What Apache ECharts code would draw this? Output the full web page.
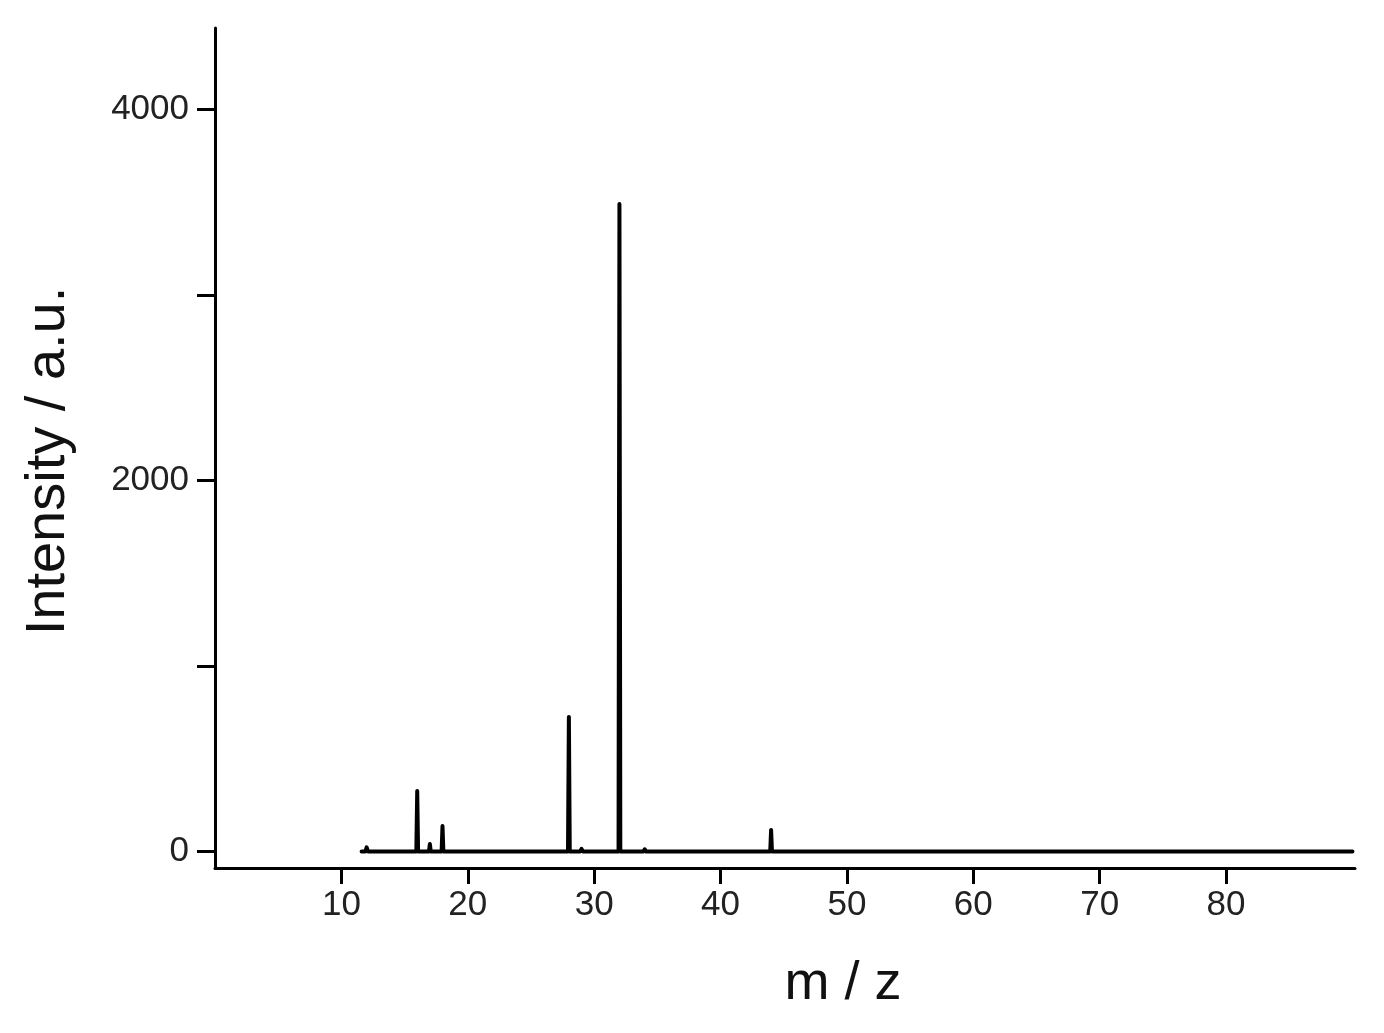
<!DOCTYPE html>
<html>
<head>
<meta charset="utf-8">
<script src="https://cdn.jsdelivr.net/npm/echarts@6/dist/echarts.min.js"></script>
<style>
  html, body { margin: 0; padding: 0; background: #fff; }
  #chart { width: 1384px; height: 1033px; }
</style>
</head>
<body>
<div id="chart"></div>
<script>
// spectrum points (m/z, intensity)
const mz = [11.6, 11.9, 12.0, 12.1, 13.9, 14.0, 14.1, 15.93, 16.0, 16.07, 16.93, 17.0, 17.07,
  17.93, 18.0, 18.07, 27.93, 28.0, 28.07, 28.9, 29.0, 29.1, 29.9, 30.0, 30.1,
  31.93, 32.0, 32.07, 33.9, 34.0, 34.1, 43.93, 44.0, 44.07, 90.0];
const intensity = [0, 0, 22, 0, 0, 10, 0, 0, 326, 0, 0, 40, 0,
  0, 137, 0, 0, 725, 0, 0, 14, 0, 0, 10, 0,
  0, 3490, 0, 0, 12, 0, 0, 116, 0, 0];
const xTicks = [10, 20, 30, 40, 50, 60, 70, 80];
const yTicks = [0, 1000, 2000, 3000, 4000];
const yLabels = [0, 2000, 4000];

const chart = echarts.init(document.getElementById('chart'));
const font = 'Liberation Sans, Arial, sans-serif';

chart.setOption({
  animation: false,
  backgroundColor: '#fff',
  grid: { left: 215, right: 29, top: 28, bottom: 165 },
  xAxis: {
    type: 'value',
    min: 0,
    max: 90.2,
    name: 'm / z',
    nameLocation: 'middle',
    nameGap: 89,
    nameTextStyle: { fontFamily: font, fontSize: 54, color: '#111', padding: [0, 0, 0, 116] },
    axisLine: { onZero: false, lineStyle: { color: '#000', width: 3 } },
    axisTick: { customValues: xTicks, length: 16, lineStyle: { color: '#000', width: 3 } },
    axisLabel: {
      customValues: xTicks, margin: 20, fontFamily: font, fontSize: 35, color: '#222',
      formatter: v => String(v)
    },
    splitLine: { show: false }
  },
  yAxis: {
    type: 'value',
    min: -89,
    max: 4438,
    name: 'Intensity / a.u.',
    nameLocation: 'middle',
    nameGap: 138,
    nameRotate: 90,
    nameTextStyle: { fontFamily: font, fontSize: 56, color: '#111', padding: [0, 26, 0, 0] },
    axisLine: { onZero: false, lineStyle: { color: '#000', width: 3 } },
    axisTick: { customValues: yTicks, length: 18, lineStyle: { color: '#000', width: 3 } },
    axisLabel: {
      customValues: yLabels, margin: 26, fontFamily: font, fontSize: 35, color: '#222',
      formatter: v => String(v)
    },
    splitLine: { show: false }
  },
  series: [{
    type: 'line',
    data: mz.map((m, i) => [m, intensity[i]]),
    showSymbol: false,
    lineStyle: { color: '#000', width: 4, cap: 'round', join: 'round' }
  }]
});
</script>
</body>
</html>
